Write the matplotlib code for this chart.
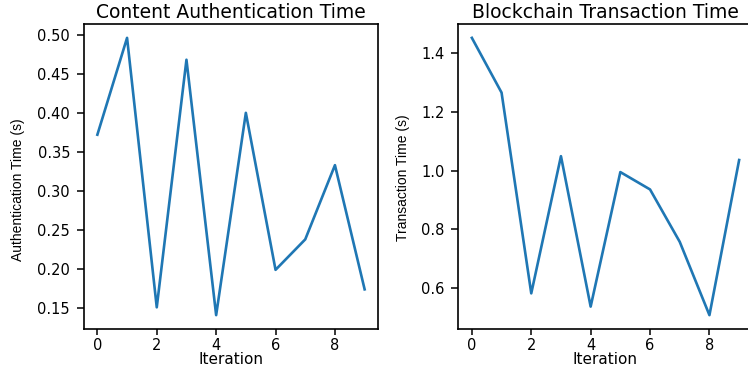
import numpy as np
import matplotlib
matplotlib.use('Agg')
import matplotlib.pyplot as plt

# per-iteration timings
iterations = np.arange(10)
auth_time = [0.372, 0.496, 0.151, 0.468, 0.141, 0.400, 0.199, 0.238, 0.333, 0.174]
tx_time = [1.451, 1.265, 0.583, 1.049, 0.538, 0.995, 0.936, 0.758, 0.509, 1.036]

W, H = 748, 366
fig = plt.figure(figsize=(W / 100, H / 100), dpi=100)

# axes boxes in pixels: left, bottom, width, height
ax1 = fig.add_axes([84 / W, (H - 329) / H, 294 / W, 305 / H])
ax2 = fig.add_axes([458.5 / W, (H - 329) / H, 294 / W, 305 / H])

for ax, y, title, ylab, ylab_pos in [
    (ax1, auth_time, 'Content Authentication Time', 'Authentication Time (s)', (-0.20, 0.456)),
    (ax2, tx_time, 'Blockchain Transaction Time', 'Transaction Time (s)', (-0.165, 0.495)),
]:
    ax.plot(iterations, y, color='#1f77b4', lw=1.9)
    ax.set_title(title, fontsize=13.5, pad=4)
    ax.set_xlabel('Iteration', fontsize=11)
    ax.xaxis.set_label_coords(0.5, -0.074)
    ax.set_ylabel(ylab, fontsize=10, family='Liberation Sans')
    ax.yaxis.set_label_coords(*ylab_pos)
    ax.set_xticks([0, 2, 4, 6, 8])
    ax.tick_params(labelsize=10.5, width=1.1)
    ax.tick_params(axis='x', length=4, pad=2.5)
    ax.tick_params(axis='y', length=5, pad=5)
    for s in ax.spines.values():
        s.set_linewidth(1.2)

ax1.set_yticks([0.15, 0.20, 0.25, 0.30, 0.35, 0.40, 0.45, 0.50])
ax1.yaxis.set_major_formatter(plt.FormatStrFormatter('%.2f'))
ax2.set_yticks([0.6, 0.8, 1.0, 1.2, 1.4])
ax2.yaxis.set_major_formatter(plt.FormatStrFormatter('%.1f'))

fig.savefig('out.png', dpi=100)
